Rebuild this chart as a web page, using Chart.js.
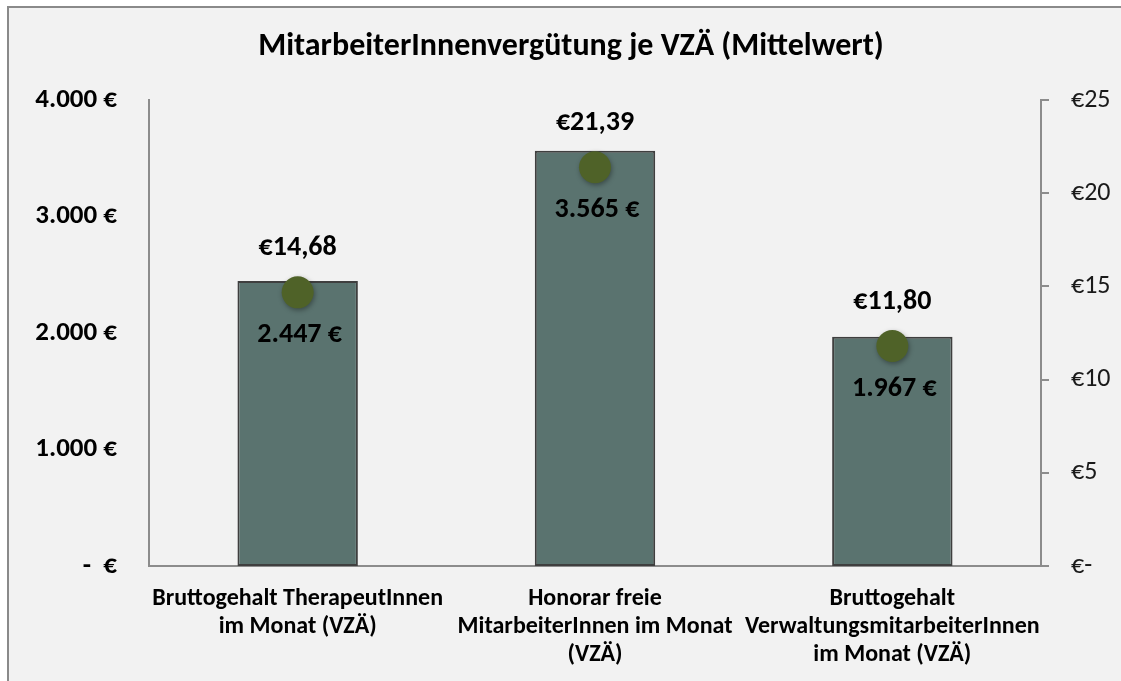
<!DOCTYPE html>
<html>
<head>
<meta charset="utf-8">
<script src="https://cdn.jsdelivr.net/npm/chart.js@4.4.1/dist/chart.umd.min.js"></script>
<style>
  html, body { margin: 0; padding: 0; background: #ffffff; }
  #wrap { width: 1121px; height: 681px; position: relative; }
</style>
</head>
<body>
<div id="wrap"><canvas id="c" width="1121" height="681"></canvas></div>
<script>
const title = "MitarbeiterInnenvergütung je VZÄ (Mittelwert)";
const categories = [
  ["Bruttogehalt TherapeutInnen", "im Monat (VZÄ)"],
  ["Honorar freie", "MitarbeiterInnen im Monat", "(VZÄ)"],
  ["Bruttogehalt", "VerwaltungsmitarbeiterInnen", "im Monat (VZÄ)"]
];
const monthlyValues = [2447, 3565, 1967];
const hourlyValues = [14.68, 21.39, 11.80];
const leftTicks = [0, 1000, 2000, 3000, 4000];
const rightTicks = [0, 5, 10, 15, 20, 25];

const FONT = "Carlito, Lato, 'DejaVu Sans', sans-serif";

function thousands(v) {
  return String(v).replace(/\B(?=(\d{3})+(?!\d))/g, ".");
}
function leftLabel(v) { return v === 0 ? "-  €" : thousands(v) + " €"; }
function rightLabel(v) { return v === 0 ? "€-" : "€" + v; }
function hourLabel(v) { return "€" + v.toFixed(2).replace(".", ","); }

const bgPlugin = {
  id: "bg",
  beforeDraw(chart) {
    const ctx = chart.ctx;
    ctx.save();
    ctx.fillStyle = "#ffffff";
    ctx.fillRect(0, 0, chart.width, chart.height);
    ctx.fillStyle = "#f2f2f2";
    ctx.fillRect(7, 6, chart.width - 7, chart.height - 6);
    ctx.strokeStyle = "#8a8a8a";
    ctx.lineWidth = 2;
    ctx.beginPath();
    ctx.moveTo(8, chart.height);
    ctx.lineTo(8, 7);
    ctx.lineTo(chart.width, 7);
    ctx.stroke();
    ctx.fillStyle = "#000000";
    ctx.font = "bold 32px " + FONT;
    ctx.textAlign = "center";
    ctx.textBaseline = "middle";
    ctx.fillText(title, 571, 47);
    ctx.restore();
  }
};

const shadowPlugin = {
  id: "dotShadow",
  beforeDatasetDraw(chart, args) {
    if (args.index === 1) {
      const ctx = chart.ctx;
      ctx.save();
      ctx.shadowColor = "rgba(0,0,0,0.35)";
      ctx.shadowBlur = 5;
      ctx.shadowOffsetX = 1;
      ctx.shadowOffsetY = 2;
    }
  },
  afterDatasetDraw(chart, args) {
    if (args.index === 1) chart.ctx.restore();
  }
};

const labelPlugin = {
  id: "valueLabels",
  afterDatasetsDraw(chart) {
    const ctx = chart.ctx;
    const lineMeta = chart.getDatasetMeta(1);
    ctx.save();
    ctx.fillStyle = "#000000";
    ctx.font = "bold 28px " + FONT;
    ctx.textAlign = "center";
    ctx.textBaseline = "middle";
    lineMeta.data.forEach((pt, i) => {
      ctx.fillText(hourLabel(hourlyValues[i]), pt.x, pt.y - 44);
      ctx.fillText(thousands(monthlyValues[i]) + " €", pt.x + 2, pt.y + 43);
    });
    ctx.restore();
  }
};

new Chart(document.getElementById("c"), {
  data: {
    labels: categories,
    datasets: [
      {
        type: "bar",
        data: monthlyValues,
        yAxisID: "y",
        backgroundColor: "#5a736f",
        borderColor: "#3f3f3f",
        borderWidth: 2,
        borderSkipped: false,
        categoryPercentage: 1,
        barPercentage: 0.405,
        order: 2
      },
      {
        type: "line",
        data: hourlyValues,
        yAxisID: "y1",
        showLine: false,
        pointRadius: 16,
        pointHoverRadius: 16,
        pointBackgroundColor: "#4f6228",
        pointBorderColor: "#4f6228",
        pointBorderWidth: 0,
        order: 1
      }
    ]
  },
  options: {
    responsive: false,
    animation: false,
    layout: { padding: { top: 100, left: 0, right: 0, bottom: 0 } },
    plugins: {
      legend: { display: false },
      title: { display: false },
      tooltip: { enabled: false }
    },
    scales: {
      x: {
        grid: { display: false, drawTicks: false },
        border: { display: true, color: "#8c8c8c", width: 2 },
        ticks: {
          color: "#000000",
          font: { family: FONT, size: 24, weight: "bold", lineHeight: 1.17 },
          padding: 19,
          maxRotation: 0,
          autoSkip: false
        },
        afterFit(scale) { scale.height = 115; }
      },
      y: {
        position: "left",
        min: 0,
        max: 4000,
        afterBuildTicks(scale) { scale.ticks = leftTicks.map(v => ({ value: v })); },
        grid: { display: false, drawTicks: false },
        border: { display: true, color: "#8c8c8c", width: 2 },
        ticks: {
          color: "#000000",
          font: { family: FONT, size: 27, weight: "bold" },
          padding: 32,
          callback: (v) => leftLabel(v)
        },
        afterFit(scale) { scale.width = 149; }
      },
      y1: {
        position: "right",
        min: 0,
        max: 25,
        afterBuildTicks(scale) { scale.ticks = rightTicks.map(v => ({ value: v })); },
        grid: { display: true, drawOnChartArea: false, drawTicks: true, tickLength: 8, color: "#8c8c8c", lineWidth: 2 },
        border: { display: true, color: "#8c8c8c", width: 2 },
        ticks: {
          color: "#1a1a1a",
          font: { family: FONT, size: 26, weight: "normal" },
          padding: 22,
          callback: (v) => rightLabel(v)
        },
        afterFit(scale) { scale.width = 80; }
      }
    }
  },
  plugins: [bgPlugin, shadowPlugin, labelPlugin]
});
</script>
</body>
</html>
